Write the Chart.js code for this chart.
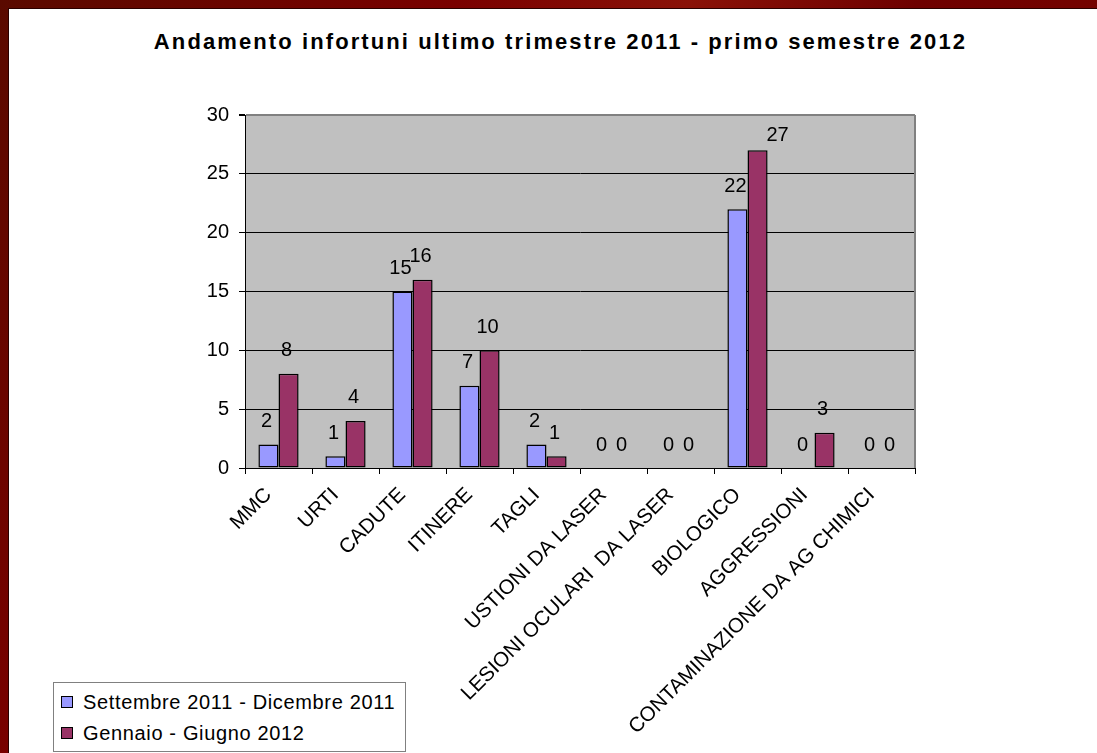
<!DOCTYPE html>
<html lang="it">
<head>
<meta charset="utf-8">
<title>Andamento infortuni</title>
<script src="https://cdn.jsdelivr.net/npm/chart.js@4"></script>
<style>
  html, body { margin: 0; padding: 0; }
  body {
    width: 1097px;
    height: 753px;
    overflow: hidden;
    position: relative;
    background: linear-gradient(120deg, #5a0a00 0%, #7a0000 30%, #8a1208 45%, #6e0000 60%, #7c0500 85%, #6a0000 100%);
    font-family: "Liberation Sans", Arial, sans-serif;
  }
  .pannello {
    position: absolute;
    left: 8px;
    top: 8px;
    right: 0;
    bottom: 0;
    background: #ffffff;
    border-left: 1px solid #2a0000;
    border-top: 1px solid #2a0000;
  }
  .titolo {
    position: absolute;
    left: 24px;
    right: 0;
    top: 29px;
    margin: 0;
    text-align: center;
    font-size: 22px;
    line-height: 25px;
    font-weight: bold;
    letter-spacing: 2.1px;
    color: #000;
  }
  #grafico {
    position: absolute;
    left: 0;
    top: 0;
  }
  .legenda {
    position: absolute;
    left: 53px;
    top: 682px;
    width: 353px;
    height: 70px;
    border: 1px solid #808080;
    background: #fff;
    box-sizing: border-box;
    font-size: 20px;
    letter-spacing: 0.65px;
    color: #000;
  }
  .legenda-voce {
    position: absolute;
    left: 7px;
    height: 24px;
    display: flex;
    align-items: center;
  }
  .legenda-colore {
    width: 12px;
    height: 12px;
    border: 1px solid #000;
    margin-right: 10px;
    box-sizing: border-box;
  }
</style>
</head>
<body>
<div class="pannello"></div>
<h1 class="titolo">Andamento infortuni ultimo trimestre 2011 - primo semestre 2012</h1>
<canvas id="grafico" width="1097" height="753"></canvas>
<div class="legenda" id="legenda"></div>

<script>
const categorie = [
  'MMC',
  'URTI',
  'CADUTE',
  'ITINERE',
  'TAGLI',
  'USTIONI DA LASER',
  'LESIONI OCULARI  DA LASER',
  'BIOLOGICO',
  'AGGRESSIONI',
  'CONTAMINAZIONE DA AG CHIMICI'
];
const periodi = ['Settembre 2011 - Dicembre 2011', 'Gennaio - Giugno 2012'];
const infortuniSetDic2011 = [2, 1, 15, 7, 2, 0, 0, 22, 0, 0];
const infortuniGenGiu2012 = [8, 4, 16, 10, 1, 0, 0, 27, 3, 0];
const tickAsseY = [0, 5, 10, 15, 20, 25, 30];

const coloriSerie = ['#9999ff', '#993366'];
const FONT = '"Liberation Sans", Arial, sans-serif';

// sfondo grigio dell'area del grafico e bordo destro
const cornicePlot = {
  id: 'cornicePlot',
  beforeDraw(chart) {
    const { ctx, chartArea: a } = chart;
    ctx.save();
    ctx.fillStyle = '#c0c0c0';
    ctx.fillRect(a.left, a.top, a.right - a.left, a.bottom - a.top);
    ctx.restore();
  },
  afterDraw(chart) {
    const { ctx, chartArea: a } = chart;
    ctx.save();
    ctx.strokeStyle = '#808080';
    ctx.lineWidth = 2;
    ctx.beginPath();
    ctx.moveTo(a.right, a.top);
    ctx.lineTo(a.right, a.bottom);
    ctx.stroke();
    ctx.restore();
  }
};

// valore scritto sopra ogni barra; vicino al bordo alto si sposta di lato
const etichetteValori = {
  id: 'etichetteValori',
  afterDatasetsDraw(chart) {
    const ctx = chart.ctx;
    const top = chart.chartArea.top;
    ctx.save();
    ctx.font = '20px ' + FONT;
    ctx.fillStyle = '#000';
    ctx.textAlign = 'center';
    ctx.textBaseline = 'middle';
    chart.data.datasets.forEach((ds, i) => {
      chart.getDatasetMeta(i).data.forEach((bar, j) => {
        let x = bar.x - 2;
        let y = bar.y - 23;
        if (y - 10 < top + 15) {
          x = bar.x + 20;
          y = bar.y - 15;
        }
        ctx.fillText(String(ds.data[j]), x, y);
      });
    });
    ctx.restore();
  }
};

const serie = [infortuniSetDic2011, infortuniGenGiu2012];

new Chart(document.getElementById('grafico'), {
  type: 'bar',
  data: {
    labels: categorie,
    datasets: serie.map((valori, i) => ({
      label: periodi[i],
      data: valori,
      backgroundColor: coloriSerie[i],
      borderColor: '#000',
      borderWidth: 1.5,
      borderSkipped: false,
      barPercentage: 1,
      categoryPercentage: 0.6
    }))
  },
  options: {
    responsive: false,
    animation: false,
    events: [],
    layout: {
      padding: { top: 115, right: 182, bottom: 0, left: 0 }
    },
    scales: {
      x: {
        offset: true,
        afterFit(scale) { scale.height = 753 - 468; },
        border: { display: true, color: '#000', width: 1 },
        grid: {
          offset: true,
          drawOnChartArea: false,
          drawTicks: true,
          tickLength: 6,
          tickColor: '#000',
          color: '#000'
        },
        ticks: {
          autoSkip: false,
          minRotation: 45,
          maxRotation: 45,
          padding: 9,
          labelOffset: -10,
          color: '#000',
          font: { family: FONT, size: 20.5 }
        }
      },
      y: {
        min: 0,
        max: 30,
        afterFit(scale) { scale.width = 245; },
        afterBuildTicks(scale) {
          scale.ticks = tickAsseY.map(v => ({ value: v }));
        },
        border: { display: true, color: '#000', width: 1 },
        grid: {
          color: ctx => (ctx.tick && ctx.tick.value === 30 ? '#808080' : '#000'),
          lineWidth: ctx => (ctx.tick && ctx.tick.value === 30 ? 2 : 1),
          tickLength: 6,
          tickColor: '#000'
        },
        ticks: {
          padding: 10,
          color: '#000',
          font: { family: FONT, size: 20 }
        }
      }
    },
    plugins: {
      legend: { display: false },
      title: { display: false },
      tooltip: { enabled: false }
    }
  },
  plugins: [cornicePlot, etichetteValori]
});

// legenda nel riquadro in basso a sinistra
const legenda = document.getElementById('legenda');
legenda.innerHTML = periodi.map((nome, i) => `
  <div class="legenda-voce" style="top:${i === 0 ? 7 : 38}px">
    <span class="legenda-colore" style="background:${coloriSerie[i]}"></span>
    <span>${nome}</span>
  </div>`).join('');
</script>
</body>
</html>
